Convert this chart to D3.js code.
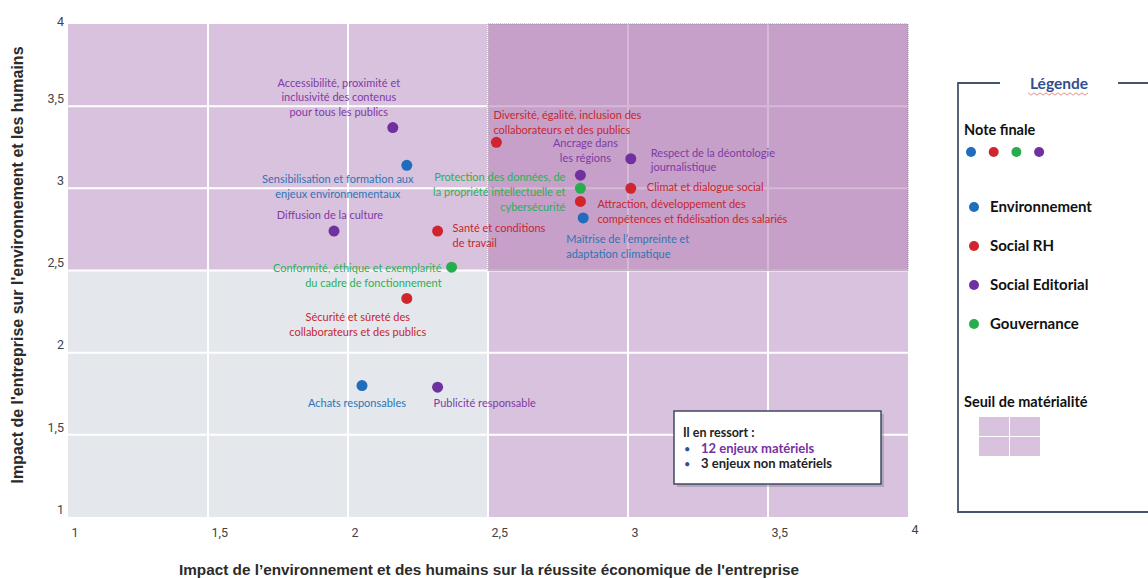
<!DOCTYPE html>
<html>
<head>
<meta charset="utf-8">
<script src="https://cdn.jsdelivr.net/npm/d3@7"></script>
<style>
  html, body { margin: 0; padding: 0; background: #fff; }
  svg { display: block; }
</style>
</head>
<body>
<svg id="chart" width="1148" height="578"></svg>
<script>
// Matrice de matérialité
const issues = [
  "Accessibilité, proximité et\ninclusivité des contenus\npour tous les publics",
  "Sensibilisation et formation aux\nenjeux environnementaux",
  "Diffusion de la culture",
  "Santé et conditions\nde travail",
  "Conformité, éthique et exemplarité\ndu cadre de fonctionnement",
  "Sécurité et sûreté des\ncollaborateurs et des publics",
  "Achats responsables",
  "Publicité responsable",
  "Diversité, égalité, inclusion des\ncollaborateurs et des publics",
  "Ancrage dans\nles régions",
  "Protection des données, de\nla propriété intellectuelle et\ncybersécurité",
  "Attraction, développement des\ncompétences et fidélisation des salariés",
  "Maîtrise de l’empreinte et\nadaptation climatique",
  "Respect de la déontologie\njournalistique",
  "Climat et dialogue social",
];
const xScores = [2.16, 2.21, 1.95, 2.32, 2.37, 2.21, 2.05, 2.32, 2.53, 2.83, 2.83, 2.83, 2.84, 3.01, 3.01];
const yScores = [3.37, 3.14, 2.74, 2.74, 2.52, 2.33, 1.80, 1.79, 3.28, 3.08, 3.00, 2.92, 2.82, 3.18, 3.00];
const pillars = [
  "Social Editorial", "Environnement", "Social Editorial", "Social RH", "Gouvernance",
  "Social RH", "Environnement", "Social Editorial", "Social RH", "Social Editorial",
  "Gouvernance", "Social RH", "Environnement", "Social Editorial", "Social RH",
];
const legendPillars = ["Environnement", "Social RH", "Social Editorial", "Gouvernance"];
const noteDots = ["Environnement", "Social RH", "Gouvernance", "Social Editorial"];
const axisTicks = [1, 1.5, 2, 2.5, 3, 3.5, 4];
const threshold = 2.5;

const xTitle = "Impact de l’environnement et des humains sur la réussite économique de l'entreprise";
const yTitle = "Impact de l'entreprise sur l'environnement et les humains";

// label placement around each dot (anchor, dx, dy in px)
const labelLayout = [
  ["middle", -54, -46], ["middle", -69, 13], ["middle", -4, -17], ["start", 15, -4],
  ["end", -10, 0], ["middle", -49, 18], ["middle", -5, 16], ["start", -4, 15],
  ["start", -3, -28], ["middle", 5, -33], ["end", -15, -12], ["start", 17, 2],
  ["start", -17, 20], ["start", 20, -7], ["start", 16, -2],
];

const dotColor = d3.scaleOrdinal()
  .domain(legendPillars)
  .range(["#1f6dbb", "#d0252c", "#7031a0", "#27ad4d"]);
const textColor = d3.scaleOrdinal()
  .domain(legendPillars)
  .range(["#2e74b5", "#c6262e", "#7e3aa6", "#2fae55"]);

const svg = d3.select("#chart");
const x = d3.scaleLinear().domain([1, 4]).range([68, 908]);
const y = d3.scaleLinear().domain([1, 4]).range([517, 24]);
const fmt = (v) => String(v).replace(".", ",");

const plot = svg.append("g");

// backgrounds
plot.append("rect")
  .attr("x", x(1)).attr("y", y(4))
  .attr("width", x(4) - x(1)).attr("height", y(1) - y(4))
  .attr("fill", "#d9c2dd");
plot.append("rect")
  .attr("x", x(1)).attr("y", y(threshold))
  .attr("width", x(threshold) - x(1)).attr("height", y(1) - y(threshold))
  .attr("fill", "#e4e7ec");

// grid
plot.selectAll("line.vgrid")
  .data(axisTicks.filter((t) => t > 1 && t < 4))
  .join("line")
  .attr("class", "vgrid")
  .attr("x1", (d) => x(d)).attr("x2", (d) => x(d))
  .attr("y1", y(4)).attr("y2", y(1))
  .attr("stroke", "#fff").attr("stroke-width", 2);
plot.selectAll("line.hgrid")
  .data(axisTicks.filter((t) => t > 1 && t < 4))
  .join("line")
  .attr("class", "hgrid")
  .attr("x1", x(1)).attr("x2", x(4))
  .attr("y1", (d) => y(d)).attr("y2", (d) => y(d))
  .attr("stroke", "#fff").attr("stroke-width", 2);

// material zone overlay
plot.append("rect")
  .attr("x", x(threshold)).attr("y", y(4))
  .attr("width", x(4) - x(threshold)).attr("height", y(threshold) - y(4))
  .attr("fill", "#b988ba").attr("fill-opacity", 0.59)
  .attr("stroke", "#9a8a9c").attr("stroke-width", 1).attr("stroke-dasharray", "1,1");

// axes
const tickFont = "Roboto, 'Liberation Sans', sans-serif";
const titleFont = "'Liberation Sans', Arial, sans-serif";
const gx = svg.append("g")
  .attr("transform", `translate(0,${y(1)})`)
  .call(d3.axisBottom(x).tickValues(axisTicks).tickFormat(fmt).tickSize(0));
gx.select(".domain").remove();
gx.selectAll("text")
  .attr("font-family", tickFont).attr("font-size", 12.5).attr("fill", "#444")
  .attr("text-anchor", "start")
  .attr("dx", 3)
  .attr("y", (d) => (d === 4 ? 8 : 11))
  .attr("dy", "0.71em");

const gy = svg.append("g")
  .attr("transform", `translate(${x(1)},0)`)
  .call(d3.axisLeft(y).tickValues(axisTicks).tickFormat(fmt).tickSize(0));
gy.select(".domain").remove();
gy.selectAll("text")
  .attr("font-family", tickFont).attr("font-size", 12.5).attr("fill", "#444")
  .attr("x", -4)
  .attr("dy", (d) => (d === 4 ? "0.1em" : "-0.3em"));

svg.append("text")
  .attr("x", 489).attr("y", 575)
  .attr("text-anchor", "middle")
  .attr("font-family", titleFont).attr("font-weight", "bold").attr("font-size", 15.3)
  .attr("fill", "#2b2b2b")
  .text(xTitle);
svg.append("text")
  .attr("transform", `translate(23,${265}) rotate(-90)`)
  .attr("text-anchor", "middle")
  .attr("font-family", titleFont).attr("font-weight", "bold").attr("font-size", 16)
  .attr("fill", "#2b2b2b")
  .text(yTitle);

// points + labels
const points = issues.map((name, i) => ({
  name, x: xScores[i], y: yScores[i], pillar: pillars[i], layout: labelLayout[i],
}));
const labelFont = "Lato, 'Noto Sans', sans-serif";

plot.selectAll("circle.dot")
  .data(points)
  .join("circle")
  .attr("class", "dot")
  .attr("cx", (d) => x(d.x)).attr("cy", (d) => y(d.y))
  .attr("r", 5.5)
  .attr("fill", (d) => dotColor(d.pillar));

const labels = plot.selectAll("text.lbl")
  .data(points)
  .join("text")
  .attr("class", "lbl")
  .attr("font-family", labelFont).attr("font-size", 11)
  .attr("fill", (d) => textColor(d.pillar))
  .attr("text-anchor", (d) => d.layout[0])
  .attr("dominant-baseline", "central");
labels.each(function (d) {
  const [, dx, dy] = d.layout;
  d3.select(this).selectAll("tspan")
    .data(d.name.split("\n"))
    .join("tspan")
    .attr("x", x(d.x) + dx)
    .attr("y", (_, k) => y(d.y) + dy + k * 14.7)
    .text((s) => s);
});

// callout
const materialCount = points.filter((p) => p.x >= threshold || p.y >= threshold).length;
const otherCount = points.length - materialCount;
const call = svg.append("g");
call.append("rect")
  .attr("x", 677).attr("y", 414).attr("width", 207).attr("height", 73)
  .attr("fill", "#6c6c7a").attr("opacity", 0.35);
call.append("rect")
  .attr("x", 674).attr("y", 411).attr("width", 207).attr("height", 73)
  .attr("fill", "#fff").attr("stroke", "#3f4a63").attr("stroke-width", 1.5);
const calloutFont = "Lato, 'Noto Sans', sans-serif";
call.append("text")
  .attr("x", 683).attr("y", 437)
  .attr("font-family", calloutFont).attr("font-weight", "bold").attr("font-size", 12.5)
  .attr("fill", "#222").text("Il en ressort :");
[
  [`${materialCount} enjeux matériels`, "#7431a3"],
  [`${otherCount} enjeux non matériels`, "#222"],
].forEach(([t, c], i) => {
  call.append("text")
    .attr("x", 684).attr("y", 452.5 + i * 15.5)
    .attr("font-family", calloutFont).attr("font-size", 11).attr("fill", "#2f4f8f")
    .text("•");
  call.append("text")
    .attr("x", 701).attr("y", 452.5 + i * 15.5)
    .attr("font-family", calloutFont).attr("font-weight", "bold").attr("font-size", 13)
    .attr("fill", c).text(t);
});

// legend
const lg = svg.append("g");
const legendFont = "Lato, 'Noto Sans', sans-serif";
lg.append("path")
  .attr("d", "M1000,83 H958 V512 H1160 M1118,83 H1160")
  .attr("fill", "none").attr("stroke", "#44546a").attr("stroke-width", 1.8);
lg.append("text")
  .attr("x", 1059).attr("y", 89).attr("text-anchor", "middle")
  .attr("font-family", legendFont).attr("font-weight", "bold").attr("font-size", 15.5)
  .attr("fill", "#2f4f8f").text("Légende");
const wave = d3.range(0, 21).map((k) => [1028 + k * 3, 94 + (k % 2 ? 1.2 : -1.2)]);
lg.append("path")
  .attr("d", d3.line()(wave))
  .attr("fill", "none").attr("stroke", "#e0706a").attr("stroke-width", 0.8);

lg.append("text")
  .attr("x", 964).attr("y", 135)
  .attr("font-family", legendFont).attr("font-weight", "bold").attr("font-size", 14.5)
  .attr("fill", "#111").text("Note finale");
lg.selectAll("circle.nd")
  .data(noteDots)
  .join("circle")
  .attr("class", "nd")
  .attr("cx", (d, i) => 971 + i * 22.7).attr("cy", 152)
  .attr("r", 5)
  .attr("fill", (d) => dotColor(d));

const items = lg.selectAll("g.item")
  .data(legendPillars)
  .join("g")
  .attr("class", "item")
  .attr("transform", (d, i) => `translate(974,${207 + i * 39})`);
items.append("circle").attr("r", 5).attr("fill", (d) => dotColor(d));
items.append("text")
  .attr("x", 16).attr("dy", "0.36em")
  .attr("font-family", legendFont).attr("font-weight", "bold").attr("font-size", 15)
  .attr("fill", "#111").text((d) => d);

lg.append("text")
  .attr("x", 964).attr("y", 407)
  .attr("font-family", legendFont).attr("font-weight", "bold").attr("font-size", 14.5)
  .attr("fill", "#111").text("Seuil de matérialité");
lg.selectAll("rect.sw")
  .data([[0, 0], [1, 0], [0, 1], [1, 1]])
  .join("rect")
  .attr("class", "sw")
  .attr("x", (d) => 979 + d[0] * 31).attr("y", (d) => 417 + d[1] * 20)
  .attr("width", 30).attr("height", 19)
  .attr("fill", "#d9c2dd");
</script>
</body>
</html>
